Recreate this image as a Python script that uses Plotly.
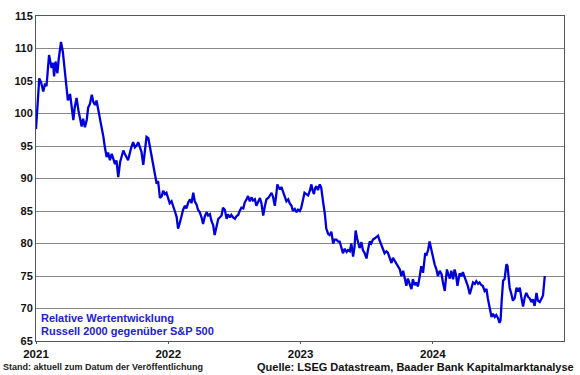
import plotly.graph_objects as go

dates = [
    "2021-01-01", "2021-01-04", "2021-01-06", "2021-01-07", "2021-01-10", "2021-01-15", "2021-01-21", "2021-01-26",
    "2021-01-30", "2021-02-06", "2021-02-13", "2021-02-17", "2021-02-20", "2021-02-24", "2021-03-01", "2021-03-05",
    "2021-03-11", "2021-03-16", "2021-03-22", "2021-03-27", "2021-03-30", "2021-04-05", "2021-04-09", "2021-04-14",
    "2021-04-18", "2021-04-23", "2021-04-28", "2021-05-02", "2021-05-07", "2021-05-11", "2021-05-16", "2021-05-21",
    "2021-05-25", "2021-05-30", "2021-06-04", "2021-06-08", "2021-06-13", "2021-06-17", "2021-06-22", "2021-06-26",
    "2021-07-01", "2021-07-06", "2021-07-10", "2021-07-15", "2021-07-19", "2021-07-24", "2021-07-29", "2021-08-02",
    "2021-08-07", "2021-08-11", "2021-08-16", "2021-08-21", "2021-08-25", "2021-08-30", "2021-09-03", "2021-09-08",
    "2021-09-12", "2021-09-20", "2021-09-26", "2021-10-01", "2021-10-06", "2021-10-10", "2021-10-17", "2021-10-19",
    "2021-10-24", "2021-10-28", "2021-11-02", "2021-11-07", "2021-11-11", "2021-11-16", "2021-11-20", "2021-11-25",
    "2021-11-30", "2021-12-04", "2021-12-09", "2021-12-14", "2021-12-18", "2021-12-23", "2021-12-27", "2022-01-01",
    "2022-01-05", "2022-01-10", "2022-01-15", "2022-01-19", "2022-01-24", "2022-01-28", "2022-02-02", "2022-02-07",
    "2022-02-11", "2022-02-16", "2022-02-20", "2022-02-25", "2022-03-02", "2022-03-06", "2022-03-11", "2022-03-15",
    "2022-03-20", "2022-03-24", "2022-03-29", "2022-04-03", "2022-04-07", "2022-04-12", "2022-04-17", "2022-04-21",
    "2022-04-26", "2022-04-30", "2022-05-05", "2022-05-09", "2022-05-14", "2022-05-19", "2022-05-23", "2022-05-28",
    "2022-06-01", "2022-06-06", "2022-06-11", "2022-06-15", "2022-06-20", "2022-06-24", "2022-06-29", "2022-07-04",
    "2022-07-08", "2022-07-13", "2022-07-17", "2022-07-22", "2022-07-27", "2022-07-31", "2022-08-05", "2022-08-09",
    "2022-08-14", "2022-08-19", "2022-08-23", "2022-08-28", "2022-09-01", "2022-09-06", "2022-09-11", "2022-09-15",
    "2022-09-20", "2022-09-24", "2022-09-29", "2022-10-04", "2022-10-08", "2022-10-13", "2022-10-17", "2022-10-22",
    "2022-10-26", "2022-10-29", "2022-11-02", "2022-11-05", "2022-11-09", "2022-11-14", "2022-11-18", "2022-11-23",
    "2022-11-28", "2022-12-02", "2022-12-07", "2022-12-11", "2022-12-16", "2022-12-21", "2022-12-25", "2022-12-30",
    "2023-01-03", "2023-01-08", "2023-01-12", "2023-01-17", "2023-01-22", "2023-01-26", "2023-01-31", "2023-02-03",
    "2023-02-07", "2023-02-10", "2023-02-14", "2023-02-18", "2023-02-23", "2023-02-27", "2023-03-01", "2023-03-04",
    "2023-03-09", "2023-03-13", "2023-03-18", "2023-03-22", "2023-03-27", "2023-04-01", "2023-04-05", "2023-04-10",
    "2023-04-15", "2023-04-19", "2023-04-24", "2023-04-28", "2023-05-03", "2023-05-08", "2023-05-12", "2023-05-17",
    "2023-05-21", "2023-05-26", "2023-05-30", "2023-06-02", "2023-06-06", "2023-06-09", "2023-06-13", "2023-06-18",
    "2023-06-22", "2023-06-27", "2023-07-02", "2023-07-06", "2023-07-11", "2023-07-15", "2023-07-20", "2023-07-25",
    "2023-07-29", "2023-08-03", "2023-08-07", "2023-08-12", "2023-08-17", "2023-08-21", "2023-08-26", "2023-08-30",
    "2023-09-04", "2023-09-09", "2023-09-13", "2023-09-18", "2023-09-22", "2023-09-27", "2023-10-02", "2023-10-06",
    "2023-10-11", "2023-10-15", "2023-10-20", "2023-10-24", "2023-10-29", "2023-11-03", "2023-11-07", "2023-11-12",
    "2023-11-16", "2023-11-21", "2023-11-26", "2023-11-30", "2023-12-05", "2023-12-08", "2023-12-11", "2023-12-15",
    "2023-12-19", "2023-12-23", "2023-12-28", "2024-01-02", "2024-01-06", "2024-01-11", "2024-01-15", "2024-01-20",
    "2024-01-25", "2024-01-29", "2024-02-03", "2024-02-06", "2024-02-09", "2024-02-13", "2024-02-17", "2024-02-21",
    "2024-02-26", "2024-03-01", "2024-03-05", "2024-03-09", "2024-03-12", "2024-03-15", "2024-03-20", "2024-03-24",
    "2024-03-29", "2024-04-03", "2024-04-07", "2024-04-12", "2024-04-16", "2024-04-21", "2024-04-26", "2024-04-30",
    "2024-05-05", "2024-05-09", "2024-05-14", "2024-05-18", "2024-05-23", "2024-05-28", "2024-06-01", "2024-06-06",
    "2024-06-11", "2024-06-15", "2024-06-20", "2024-06-24", "2024-06-29", "2024-07-03", "2024-07-06", "2024-07-09",
    "2024-07-13", "2024-07-17", "2024-07-22", "2024-07-25", "2024-07-28", "2024-07-31", "2024-08-05", "2024-08-09",
    "2024-08-14", "2024-08-19", "2024-08-23", "2024-08-28", "2024-09-01", "2024-09-06", "2024-09-11", "2024-09-15",
    "2024-09-20", "2024-09-24", "2024-09-29", "2024-10-03", "2024-10-08", "2024-10-13", "2024-10-17", "2024-10-22",
    "2024-10-26", "2024-10-31", "2024-11-05",
]

relative_perf = [
    97.6, 100.5, 102.1, 102.6, 105.4, 104.8, 103.4, 104.6,
    104.2, 109.0, 107.0, 107.8, 105.7, 108.0, 106.2, 108.5,
    111.0, 109.5, 106.4, 103.9, 102.0, 103.0, 101.5, 99.0,
    101.0, 102.4, 100.5, 99.4, 98.0, 99.2, 97.9, 99.0,
    100.9, 101.5, 102.9, 101.8, 101.3, 102.0, 100.5, 99.9,
    98.0, 96.4, 94.8, 93.3, 94.0, 92.8, 93.8, 93.0,
    92.2, 92.8, 90.2, 92.5, 93.5, 94.3, 93.8, 93.3,
    92.8, 94.6, 95.6, 94.8, 95.1, 95.6, 94.3, 94.1,
    92.1, 94.5, 96.4, 96.2, 94.9, 93.5, 92.0, 90.5,
    89.2, 89.6, 87.0, 87.3, 88.1, 87.6, 87.8, 86.9,
    86.2, 86.5, 85.8, 85.0, 84.1, 82.3, 83.2, 84.5,
    85.2, 85.8, 85.4, 86.3, 86.8, 86.2, 87.8, 86.5,
    86.0, 85.2, 84.8, 84.0, 83.0, 84.2, 84.8, 84.3,
    84.5, 83.5, 82.8, 81.3, 82.5, 83.8, 84.0, 84.3,
    85.5, 85.2, 83.8, 84.5, 84.0, 84.4, 84.0, 83.8,
    84.2, 84.4, 85.0, 85.5, 85.4, 86.3, 86.8, 87.3,
    86.5, 87.1, 86.6, 86.8, 85.8, 86.3, 87.0, 86.2,
    84.3, 85.6, 86.8, 87.0, 87.3, 87.8, 87.2, 85.8,
    87.5, 89.1, 88.6, 88.3, 88.7, 88.0, 87.5, 86.5,
    86.8, 86.2, 85.8, 85.0, 85.3, 84.8, 85.2, 85.0,
    85.5, 86.8, 87.8, 87.6, 87.4, 88.0, 89.1, 88.2,
    87.6, 88.5, 88.8, 88.2, 89.1, 88.6, 87.4, 86.5,
    84.6, 82.3, 81.5, 81.3, 81.8, 80.0, 80.6, 80.6,
    80.3, 80.3, 79.3, 78.5, 79.2, 78.7, 79.0, 78.8,
    80.0, 78.0, 79.5, 82.0, 80.8, 80.0, 79.3, 80.2,
    79.0, 78.5, 77.7, 79.0, 80.3, 80.0, 80.6, 80.8,
    81.0, 81.2, 80.5, 79.8, 79.3, 78.5, 78.8, 78.6,
    77.8, 77.0, 77.8, 77.3, 76.8, 76.5, 76.0, 75.0,
    75.8, 74.8, 73.5, 74.6, 73.8, 73.0, 74.5, 73.6,
    74.0, 73.4, 75.0, 76.5, 75.5, 77.0, 78.5, 78.3,
    79.0, 80.3, 79.0, 77.7, 76.8, 76.0, 75.0, 75.8,
    75.3, 74.0, 72.7, 74.5, 76.0, 75.2, 74.6, 75.8,
    74.5, 76.0, 75.2, 73.5, 74.5, 75.4, 75.0, 75.6,
    74.8, 74.0, 73.4, 72.2, 73.0, 74.0, 73.8, 74.2,
    73.8, 74.0, 73.6, 73.5, 72.7, 73.0, 71.5, 70.0,
    68.7, 69.2, 68.7, 69.0, 68.5, 67.8, 68.2, 71.2,
    74.3, 74.5, 76.8, 76.6, 75.2, 73.2, 72.2, 71.2,
    71.6, 73.2, 72.6, 73.2, 71.8, 70.3, 71.8, 72.4,
    71.8, 71.6, 71.0, 71.4, 70.4, 72.4, 71.2, 71.0,
    71.4, 72.0, 75.0,
]

year_ticks = ["2021-01-01", "2022-01-01", "2023-01-01", "2024-01-01"]
year_labels = ["2021", "2022", "2023", "2024"]
y_ticks = [65, 70, 75, 80, 85, 90, 95, 100, 105, 110, 115]

FONT = "Liberation Sans, Arial, sans-serif"

fig = go.Figure()
fig.add_trace(go.Scatter(
    x=dates, y=relative_perf, mode="lines",
    line=dict(color="#0000dd", width=2.3),
    hoverinfo="x+y", showlegend=False,
))

fig.update_layout(
    width=580, height=375,
    margin=dict(l=36, r=16, t=10, b=34),
    paper_bgcolor="white", plot_bgcolor="white",
    font=dict(family=FONT, color="#000000"),
    xaxis=dict(
        type="date",
        range=["2021-01-01", "2024-12-28"],
        tickvals=year_ticks, ticktext=year_labels,
        tickfont=dict(size=11.5, weight="bold", color="#111"),
        ticks="outside", ticklen=2, tickcolor="#555",
        showgrid=False, zeroline=False,
        showline=True, linecolor="#555", linewidth=1, mirror=True,
    ),
    yaxis=dict(
        range=[65, 115],
        tickvals=y_ticks,
        tickfont=dict(size=11, weight="bold", color="#111"),
        ticks="", showgrid=True, gridcolor="#888", gridwidth=1,
        zeroline=False,
        showline=True, linecolor="#555", linewidth=1, mirror=True,
    ),
    annotations=[
        dict(x=0.006, y=0.0695, xref="paper", yref="paper", xanchor="left", yanchor="middle",
             text="Relative Wertentwicklung", showarrow=False,
             font=dict(size=11, color="#2222cc", weight="bold", family=FONT)),
        dict(x=0.006, y=0.030, xref="paper", yref="paper", xanchor="left", yanchor="middle",
             text="Russell 2000 gegenüber S&P 500", showarrow=False,
             font=dict(size=11, color="#2222cc", weight="bold", family=FONT)),
        dict(x=-0.066, y=-0.0815, xref="paper", yref="paper", xanchor="left", yanchor="middle",
             text="Stand: aktuell zum Datum der Veröffentlichung", showarrow=False,
             font=dict(size=9, color="#222", weight="bold", family=FONT)),
        dict(x=1.022, y=-0.0785, xref="paper", yref="paper", xanchor="right", yanchor="middle",
             text="Quelle: LSEG Datastream, Baader Bank Kapitalmarktanalyse", showarrow=False,
             font=dict(size=11, color="#111", weight="bold", family=FONT)),
    ],
)

fig.write_html("out.html", config={"displayModeBar": False},
               post_script="document.body.style.margin='0';")
